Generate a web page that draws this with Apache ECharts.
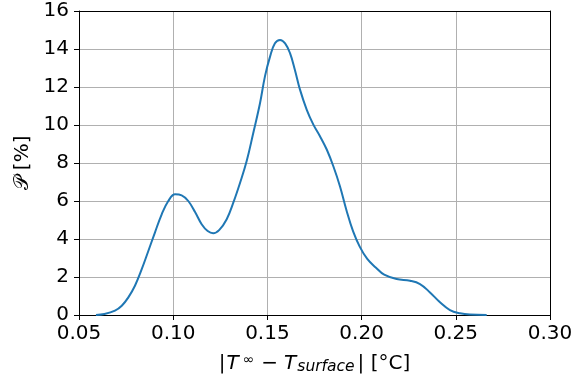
<!DOCTYPE html>
<html>
<head>
<meta charset="utf-8">
<script src="https://cdn.jsdelivr.net/npm/echarts@6/dist/echarts.min.js"></script>
<style>html,body{margin:0;padding:0;background:#fff;}#c{width:587px;height:380px;}</style>
</head>
<body>
<div id="c"></div>
<script>
const xValues = [0.059, 0.0635, 0.0691, 0.0727, 0.0762, 0.0797, 0.0833, 0.0868, 0.0903, 0.0939, 0.0974, 0.1010, 0.1045, 0.1080, 0.1116, 0.1151, 0.1183, 0.1212, 0.1245, 0.1284, 0.1319, 0.1355, 0.1390, 0.1425, 0.1461, 0.1487, 0.1514, 0.1540, 0.1567, 0.1594, 0.1620, 0.1646, 0.1673, 0.1709, 0.1744, 0.1779, 0.1815, 0.1850, 0.1885, 0.1920, 0.1955, 0.1990, 0.2030, 0.2075, 0.2120, 0.2186, 0.2257, 0.2310, 0.2363, 0.2416, 0.2469, 0.2522, 0.2575, 0.2664];
const pValues = [0, 0.05, 0.23, 0.49, 0.93, 1.54, 2.41, 3.37, 4.34, 5.3, 6.0, 6.35, 6.3, 6.0, 5.42, 4.78, 4.42, 4.3, 4.48, 5.04, 5.91, 6.96, 8.1, 9.58, 11.16, 12.56, 13.6, 14.3, 14.48, 14.3, 13.78, 12.9, 11.86, 10.8, 10.02, 9.41, 8.71, 7.83, 6.78, 5.5, 4.4, 3.6, 2.95, 2.5, 2.12, 1.89, 1.8, 1.63, 1.19, 0.67, 0.26, 0.09, 0.02, 0];
const xTicks = [0.05, 0.10, 0.15, 0.20, 0.25, 0.30];
const yTicks = [0, 2, 4, 6, 8, 10, 12, 14, 16];

const FONT = 'DejaVu Sans';
const chart = echarts.init(document.getElementById('c'), null, {renderer: 'canvas'});
const data = xValues.map((x, i) => [x, pValues[i]]);
chart.setOption({
  animation: false,
  backgroundColor: '#fff',
  grid: {left: 79, right: 37, top: 11, bottom: 64, containLabel: false},
  xAxis: [{
    type: 'value', min: 0.05, max: 0.30, interval: 0.05,
    name: '{bar1||}{i|T}{sup|∞}{minus|−}{i|T}{sub|surface}{bar2||}{n| [°C]}',
    nameLocation: 'middle', nameGap: 38,
    nameTextStyle: {
      fontFamily: FONT, fontSize: 20, color: '#000',
      rich: {
        n: {fontFamily: FONT, fontSize: 20, color: '#000'},
        bar1: {fontFamily: FONT, fontSize: 20, color: '#000', padding: [0, 1, 0, 0]},
        bar2: {fontFamily: FONT, fontSize: 20, color: '#000', padding: [0, 0, 0, 3]},
        minus: {fontFamily: FONT, fontSize: 20, color: '#000', padding: [0, 6, 0, 7]},
        i: {fontFamily: FONT, fontSize: 20, fontStyle: 'italic', color: '#000'},
        sup: {fontFamily: FONT, fontSize: 14, color: '#000', verticalAlign: 'top', padding: [0, 0, 8, 4]},
        sub: {fontFamily: FONT, fontSize: 15.5, fontStyle: 'italic', color: '#000', verticalAlign: 'bottom', padding: [6, 0, 0, 1]}
      }
    },
    axisLine: {show: true, onZero: false, lineStyle: {color: '#000', width: 1}},
    axisTick: {show: true, inside: false, length: 5, lineStyle: {color: '#000'}},
    axisLabel: {fontFamily: FONT, fontSize: 20, color: '#000', margin: 9,
      formatter: v => xTicks.find(t => Math.abs(t - v) < 1e-9) !== undefined ? v.toFixed(2) : ''},
    splitLine: {show: true, lineStyle: {color: '#b0b0b0', width: 1}}
  }, {
    type: 'value', min: 0.05, max: 0.30, position: 'top',
    axisLine: {show: true, onZero: false, lineStyle: {color: '#000', width: 1}},
    axisTick: {show: false}, axisLabel: {show: false}, splitLine: {show: false}
  }],
  yAxis: [{
    type: 'value', min: 0, max: 16, interval: 2,
    name: '𝒫 [%]', nameLocation: 'middle', nameGap: 44,
    nameTextStyle: {fontFamily: FONT, fontSize: 20, color: '#000'},
    axisLine: {show: true, onZero: false, lineStyle: {color: '#000', width: 1}},
    axisTick: {show: true, inside: false, length: 5, lineStyle: {color: '#000'}},
    axisLabel: {fontFamily: FONT, fontSize: 20, color: '#000', margin: 10,
      formatter: v => yTicks.indexOf(v) >= 0 ? String(v) : ''},
    splitLine: {show: true, lineStyle: {color: '#b0b0b0', width: 1}}
  }, {
    type: 'value', min: 0, max: 16, position: 'right',
    axisLine: {show: true, onZero: false, lineStyle: {color: '#000', width: 1}},
    axisTick: {show: false}, axisLabel: {show: false}, splitLine: {show: false}
  }],
  series: [{
    type: 'line', data: data, xAxisIndex: 0, yAxisIndex: 0,
    smooth: 0.4, showSymbol: false, symbol: 'none',
    lineStyle: {color: '#1f77b4', width: 2}
  }]
});
</script>
</body>
</html>
